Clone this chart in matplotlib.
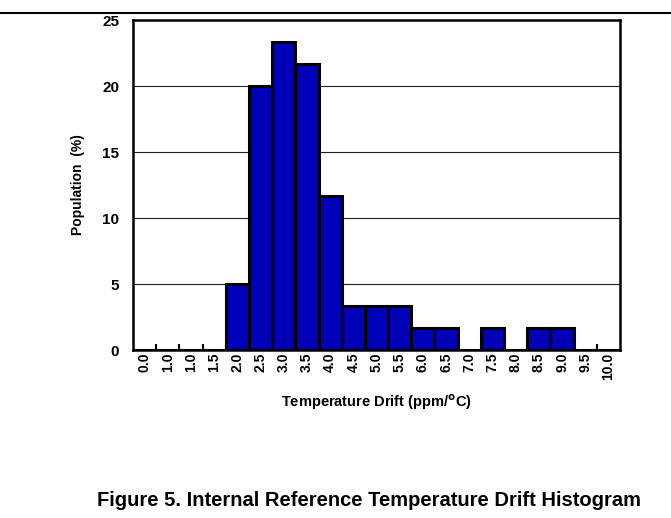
import numpy as np
import matplotlib.pyplot as plt

plt.rcParams['font.family'] = ['Liberation Sans', 'DejaVu Sans']
plt.rcParams['font.weight'] = 'bold'

# tick labels as printed in the figure (second label really reads 1.0)
drift_labels = ['0.0', '1.0', '1.0', '1.5', '2.0', '2.5', '3.0', '3.5', '4.0', '4.5',
                '5.0', '5.5', '6.0', '6.5', '7.0', '7.5', '8.0', '8.5', '9.0', '9.5', '10.0']
population = [0, 0, 0, 0, 5.0, 20.0, 23.3, 21.7, 11.7, 3.3,
              3.3, 3.3, 1.7, 1.7, 0, 1.7, 0, 1.7, 1.7, 0, 0]

fig = plt.figure(figsize=(6.71, 5.18), dpi=100)
ax = fig.add_axes([133/671, 1 - 350/518, 487/671, 330/518])

x = np.arange(len(drift_labels))
ax.bar(x, population, width=1.0, color='#0000B8', edgecolor='black', linewidth=2.2, zorder=3)

ax.set_xlim(-0.5, len(drift_labels) - 0.5)
ax.set_ylim(0, 25)
ax.set_yticks([0, 5, 10, 15, 20, 25])
ax.yaxis.grid(True, color='#222222', linewidth=0.8, zorder=0)
ax.set_axisbelow(True)

# category labels in the middle, small tick marks on the bin edges
ax.set_xticks(x)
ax.set_xticklabels(drift_labels, rotation=90, fontsize=10, fontweight='bold')
ax.tick_params(axis='x', which='major', length=0, pad=2)
ax.set_xticks(x[:-1] + 0.5, minor=True)
ax.tick_params(axis='x', which='minor', direction='in', length=4, width=1.5)
ax.tick_params(axis='y', direction='in', length=0, labelsize=11, pad=10)
for lab in ax.get_yticklabels():
    lab.set_fontweight('bold')

for s in ax.spines.values():
    s.set_linewidth(1.8)

ax.set_ylabel('Population  (%)', fontsize=10, fontweight='bold', labelpad=12)
ax.set_xlabel('Temperature Drift (ppm/$^{\\mathbf{o}}$C)', fontsize=10.5, fontweight='bold', labelpad=9)

# page rule and figure caption
fig.add_artist(plt.Line2D([0, 1], [1 - 13/518, 1 - 13/518], color='black', linewidth=1.5))
fig.text(369/671, 1 - 500/518, 'Figure 5. Internal Reference Temperature Drift Histogram',
         ha='center', va='center', fontsize=14.5, fontweight='bold')

fig.savefig('out.png', dpi=100)
